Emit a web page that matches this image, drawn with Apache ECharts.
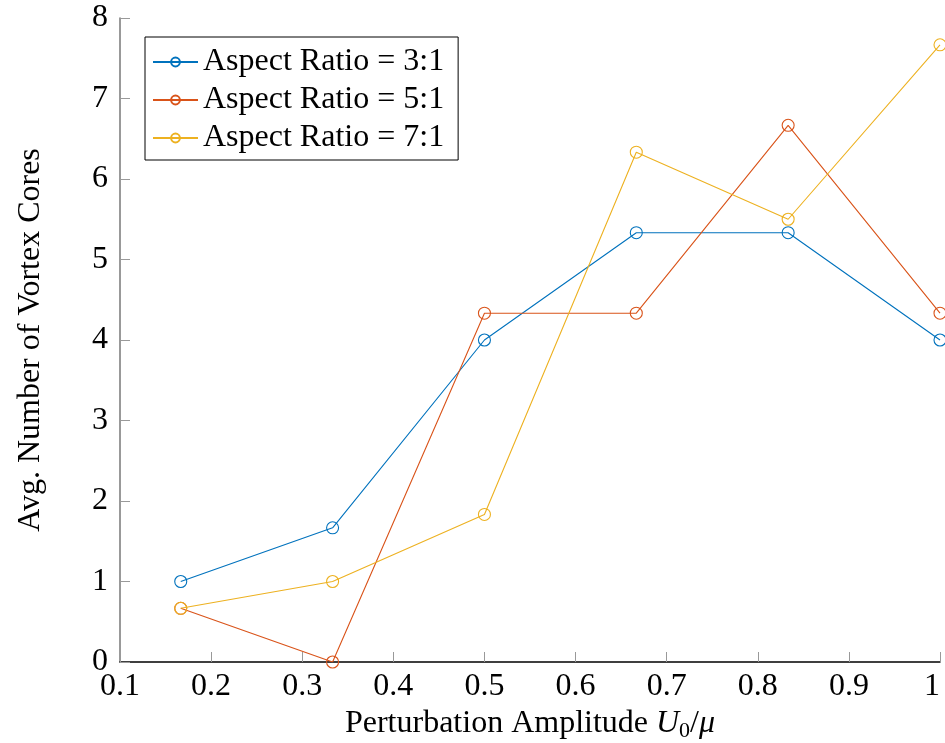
<!DOCTYPE html>
<html>
<head>
<meta charset="utf-8">
<script src="https://cdn.jsdelivr.net/npm/echarts@6/dist/echarts.min.js"></script>
<style>html,body{margin:0;padding:0;background:#fff}#c{width:945px;height:743px}</style>
</head>
<body>
<div id="c"></div>
<script>
var xValues = [1/6, 2/6, 3/6, 4/6, 5/6, 1];
var ratio31 = [1, 1.667, 4, 5.333, 5.333, 4];
var ratio51 = [0.667, 0, 4.333, 4.333, 6.667, 4.333];
var ratio71 = [0.667, 1, 1.833, 6.333, 5.5, 7.667];
var seriesNames = ['Aspect Ratio = 3:1', 'Aspect Ratio = 5:1', 'Aspect Ratio = 7:1'];
var seriesColors = ['#0072BD', '#D95319', '#EDB120'];
var seriesData = [ratio31, ratio51, ratio71];

var FONT = '"Liberation Serif", "Times New Roman", serif';
var FS = 32;
var chart = echarts.init(document.getElementById('c'));
var series = seriesData.map(function (vals, i) {
  return {
    name: seriesNames[i],
    type: 'line',
    data: xValues.map(function (x, j) { return [x, vals[j]]; }),
    symbol: 'circle',
    symbolSize: 12,
    showAllSymbol: true,
    lineStyle: { color: seriesColors[i], width: 1.1 },
    itemStyle: { color: 'rgba(255,255,255,0)', borderColor: seriesColors[i], borderWidth: 1.1 },
    emphasis: { disabled: true },
    animation: false
  };
});
chart.setOption({
  animation: false,
  grid: { left: 120, right: 5, top: 18, bottom: 81, containLabel: false, outerBoundsMode: 'none' },
  legend: {
    left: 145, top: 37,
    orient: 'vertical',
    data: seriesNames,
    itemWidth: 45, itemHeight: 11, itemGap: 6,
    padding: [9, 14, 6, 7],
    borderColor: '#000', borderWidth: 1,
    backgroundColor: '#fff',
    textStyle: { fontFamily: FONT, fontSize: FS, color: '#000', padding: [0, 0, 0, 0] },
    selectedMode: false
  },
  xAxis: {
    type: 'value', min: 0.1, max: 1, interval: 0.1,
    axisLine: { lineStyle: { color: '#000', width: 1.5 } },
    axisTick: { inside: true, length: 10, lineStyle: { color: '#999' } },
    splitLine: { show: false },
    axisLabel: { fontFamily: FONT, fontSize: FS, color: '#000', margin: 9, alignMaxLabel: 'right',
      formatter: function (v) { return String(+v.toFixed(1)); } },
    name: '{n|Perturbation Amplitude }{i|U}{s|0}{n|/}{i|μ}',
    nameLocation: 'middle', nameGap: 43,
    nameTextStyle: {
      rich: {
        n: { fontFamily: FONT, fontSize: FS, color: '#000' },
        i: { fontFamily: FONT, fontSize: FS, fontStyle: 'italic', color: '#000' },
        s: { fontFamily: FONT, fontSize: 22, color: '#000', verticalAlign: 'bottom', padding: [14, 0, 0, 0] }
      }
    }
  },
  yAxis: {
    type: 'value', min: 0, max: 8, interval: 1,
    axisLine: { show: true, lineStyle: { color: '#777', width: 1.5 } },
    axisTick: { show: true, inside: true, length: 10, lineStyle: { color: '#999' } },
    splitLine: { show: false },
    axisLabel: { fontFamily: FONT, fontSize: FS, color: '#000', margin: 12 },
    name: 'Avg. Number of Vortex Cores',
    nameLocation: 'middle', nameGap: 73,
    nameTextStyle: { fontFamily: FONT, fontSize: FS, color: '#000' }
  },
  series: series
});
</script>
</body>
</html>
